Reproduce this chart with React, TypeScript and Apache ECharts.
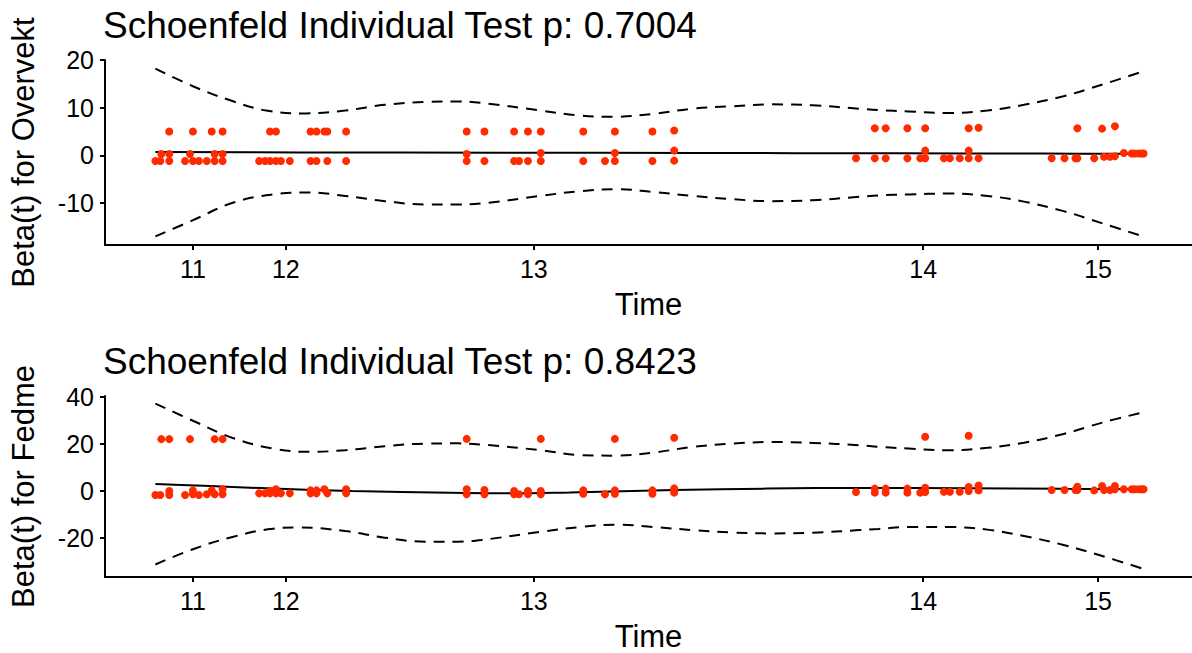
import React, { useEffect, useRef } from "react";
import * as echarts from "echarts";

// Transformed time (km scale, 0..1) for tick positions and their time labels
const tickTimes = [11, 12, 13, 14, 15];
const tickPos = [0.039, 0.133, 0.384, 0.778, 0.955];

const titles = [
  "Schoenfeld Individual Test p: 0.7004",
  "Schoenfeld Individual Test p: 0.8423",
];
const yNames = ["Beta(t) for Overvekt", "Beta(t) for Fedme"];

// Scaled Schoenfeld residuals: [transformed time, beta]
const residOvervekt = [
  [0.001, -1.2], [0.006, -1.2], [0.007, 0.3], [0.015, 5], [0.015, 0.3], [0.015, -1.2],
  [0.031, -1.2], [0.036, 0.3], [0.039, 5], [0.039, -1.2], [0.045, -1.2], [0.053, -1.2],
  [0.058, 5], [0.061, 0.3], [0.061, -1.2], [0.069, 5], [0.069, 0.3], [0.069, -1.2],
  [0.106, -1.2], [0.112, -1.2], [0.117, 5], [0.117, -1.2], [0.123, 5], [0.123, -1.2],
  [0.128, -1.2], [0.137, -1.2], [0.158, 5], [0.158, -1.2], [0.164, 5], [0.164, -1.2],
  [0.172, 5], [0.175, 5], [0.175, -1.2], [0.194, 5], [0.194, -1.2],
  [0.316, 5], [0.316, 0.3], [0.316, -1.2], [0.334, 5], [0.334, -1.2],
  [0.364, 5], [0.364, -1.2], [0.369, -1.2], [0.378, 5], [0.378, -1.2], [0.391, 5],
  [0.391, 0.5], [0.391, -1.2], [0.434, 5], [0.434, -1.2], [0.456, -1.2], [0.466, 5],
  [0.466, 0.5], [0.466, -1.2], [0.504, 5], [0.504, -1.2], [0.526, 5.2], [0.526, 1.0],
  [0.526, -1.1],
  [0.710, -0.6], [0.729, 5.7], [0.729, -0.6], [0.740, 5.7], [0.740, -0.6], [0.762, 5.7],
  [0.762, -0.6], [0.775, -0.6], [0.780, 5.7], [0.780, 1.0], [0.780, -0.6], [0.799, -0.6],
  [0.805, -0.6], [0.815, -0.6], [0.824, 5.7], [0.824, 1.0], [0.824, -0.6], [0.834, 5.8],
  [0.834, -0.6], [0.908, -0.6], [0.921, -0.6], [0.932, -0.6], [0.934, 5.7], [0.934, -0.6],
  [0.951, -0.6], [0.959, 5.6], [0.961, -0.3], [0.967, -0.3], [0.972, 6.1], [0.972, -0.2],
  [0.981, 0.5], [0.989, 0.4], [0.992, 0.4], [0.996, 0.4], [0.999, 0.4], [1.001, 0.4],
];

const residFedme = [
  [0.007, 22], [0.015, 22], [0.036, 22], [0.061, 22], [0.069, 22], [0.316, 22.1],
  [0.391, 22.1], [0.466, 22.1], [0.526, 22.6], [0.780, 23], [0.824, 23.4],
  [0.001, -1.7], [0.006, -1.7], [0.015, 0], [0.015, -1.7], [0.031, -1.7], [0.039, 0.25],
  [0.039, -1.4], [0.045, -1.7], [0.053, -1.4], [0.058, 0.25], [0.061, -1.4], [0.069, 0.7],
  [0.069, -1.4], [0.106, -1.0], [0.112, -1.0], [0.117, 0], [0.117, -1.0], [0.123, 0.7],
  [0.123, -1.0], [0.128, -1.0], [0.137, -1.0], [0.158, 0.25], [0.158, -1.0], [0.164, 0.25],
  [0.164, -1.0], [0.172, 0.7], [0.175, -1.0], [0.194, 0.7], [0.194, -1.0],
  [0.316, 0.7], [0.316, -1.4], [0.334, 0.4], [0.334, -1.4], [0.364, 0], [0.364, -1.4],
  [0.369, -1.4], [0.378, 0], [0.378, -1.4], [0.391, 0], [0.391, -1.4], [0.434, 0.25],
  [0.434, -1.2], [0.456, -1.4], [0.466, 0.25], [0.466, -1.2], [0.504, 0.25], [0.504, -1.2],
  [0.526, 1.1], [0.526, 0], [0.526, -0.7],
  [0.710, -0.4], [0.729, 1.0], [0.729, -0.7], [0.740, 1.0], [0.740, -0.7], [0.762, 1.0],
  [0.762, -0.7], [0.775, -0.7], [0.780, 1.4], [0.780, -0.4], [0.799, -0.3], [0.805, -0.3],
  [0.815, -0.3], [0.824, 1.7], [0.824, 0], [0.834, 2.3], [0.834, 0.25], [0.908, 0.4],
  [0.921, 0.4], [0.932, 0.4], [0.934, 1.8], [0.934, 0.4], [0.951, 0.25], [0.959, 2.1],
  [0.961, 0.4], [0.967, 0.4], [0.972, 2.1], [0.972, 0.7], [0.981, 0.7], [0.989, 0.7],
  [0.992, 0.7], [0.996, 0.7], [0.999, 0.7], [1.001, 0.7],
];

// Smoothed beta(t) fits and their confidence bands
const fitOvervekt = [
  [0.001, 0.7], [0.15, 0.62], [0.35, 0.55], [0.55, 0.5], [0.75, 0.42], [0.9, 0.37], [0.999, 0.35],
];
const upperOvervekt = [
  [0.001, 18.2], [0.039, 14.5], [0.076, 11.6], [0.113, 9.4], [0.153, 8.8], [0.193, 9.4],
  [0.233, 10.6], [0.274, 11.2], [0.307, 11.3], [0.331, 11.0], [0.391, 9.4], [0.428, 8.4],
  [0.465, 8.1], [0.505, 8.7], [0.545, 9.8], [0.585, 10.3], [0.625, 10.7], [0.666, 10.5],
  [0.713, 9.8], [0.733, 9.5], [0.763, 9.2], [0.803, 8.9], [0.843, 9.4], [0.880, 10.6],
  [0.920, 12.4], [0.960, 14.9], [0.999, 17.5],
];
const lowerOvervekt = [
  [0.001, -17.0], [0.039, -13.6], [0.080, -9.9], [0.120, -8.2], [0.157, -7.8], [0.193, -8.5],
  [0.233, -9.6], [0.274, -10.3], [0.307, -10.3], [0.331, -10.1], [0.391, -8.5], [0.431, -7.5],
  [0.468, -7.1], [0.505, -7.7], [0.545, -8.5], [0.585, -9.2], [0.625, -9.6], [0.666, -9.4],
  [0.713, -8.7], [0.733, -8.4], [0.763, -8.2], [0.803, -8.0], [0.843, -8.5], [0.880, -9.7],
  [0.920, -11.7], [0.960, -14.3], [0.999, -16.9],
];

const fitFedme = [
  [0.001, 3.0], [0.05, 2.2], [0.12, 1.0], [0.2, 0.0], [0.3, -0.8], [0.35, -1.0], [0.42, -0.6],
  [0.526, 0.4], [0.62, 1.0], [0.72, 1.3], [0.82, 1.2], [0.92, 0.9], [0.999, 0.7],
];
const upperFedme = [
  [0.001, 37.1], [0.039, 29.8], [0.080, 22.4], [0.120, 18.0], [0.157, 16.6], [0.193, 17.3],
  [0.233, 19.0], [0.274, 20.1], [0.307, 20.2], [0.331, 19.7], [0.391, 17.3], [0.431, 15.2],
  [0.468, 15.0], [0.505, 16.3], [0.545, 18.7], [0.585, 20.1], [0.625, 20.8], [0.666, 20.4],
  [0.713, 19.4], [0.733, 18.7], [0.763, 18.0], [0.803, 17.3], [0.843, 18.3], [0.880, 20.5],
  [0.920, 24.2], [0.960, 29.1], [0.999, 33.2],
];
const lowerFedme = [
  [0.001, -31.2], [0.039, -24.7], [0.080, -19.4], [0.120, -16.0], [0.146, -15.5], [0.193, -17.0],
  [0.233, -19.8], [0.274, -21.5], [0.307, -21.5], [0.331, -20.8], [0.391, -17.3], [0.431, -15.3],
  [0.468, -14.3], [0.505, -15.3], [0.545, -16.6], [0.585, -17.6], [0.625, -18.0], [0.666, -17.7],
  [0.713, -16.6], [0.733, -16.1], [0.763, -15.3], [0.803, -15.3], [0.843, -16.4], [0.880, -19.1],
  [0.920, -22.9], [0.960, -27.7], [0.999, -32.8],
];

const yTicksOvervekt = [-10, 0, 10, 20];
const yTicksFedme = [-20, 0, 20, 40];

const FONT = "'Liberation Sans', Arial, Helvetica, sans-serif";
const RED = "#ff2a00";

export default function App() {
  const ref = useRef<HTMLDivElement>(null);

  useEffect(() => {
    if (!ref.current) return;
    const chart = echarts.init(ref.current, null, { renderer: "svg" });

    const axisLineStyle = { color: "#000", width: 2 };
    const xFormatter = (v: number) => {
      const i = tickPos.findIndex((p) => Math.abs(p - v) < 1e-6);
      return i >= 0 ? String(tickTimes[i]) : "";
    };

    const makeX = (gridIndex: number) => ({
      type: "value",
      gridIndex,
      min: -0.05,
      max: 1.05,
      name: "Time",
      nameLocation: "middle",
      nameGap: 44,
      nameTextStyle: { fontSize: 31, color: "#000", fontFamily: FONT },
      axisLine: { show: true, onZero: false, lineStyle: axisLineStyle },
      axisTick: { show: true, length: 5, lineStyle: axisLineStyle, customValues: tickPos },
      axisLabel: {
        customValues: tickPos,
        formatter: xFormatter,
        fontSize: 25,
        color: "#000",
        fontFamily: FONT,
        margin: 11,
      },
      splitLine: { show: false },
    });

    const makeY = (gridIndex: number, min: number, max: number, ticks: number[], name: string) => ({
      type: "value",
      gridIndex,
      min,
      max,
      name,
      nameLocation: "middle",
      nameGap: 66,
      nameRotate: 90,
      nameTextStyle: { fontSize: 31, color: "#000", fontFamily: FONT },
      axisLine: { show: true, onZero: false, lineStyle: axisLineStyle },
      axisTick: { show: true, length: 5, lineStyle: axisLineStyle, customValues: ticks },
      axisLabel: {
        customValues: ticks,
        fontSize: 25,
        color: "#000",
        fontFamily: FONT,
        margin: 11,
      },
      splitLine: { show: false },
    });

    const lineSeries = (data: number[][], idx: number, dashed: boolean) => ({
      type: "line",
      xAxisIndex: idx,
      yAxisIndex: idx,
      data,
      smooth: 0.4,
      showSymbol: false,
      symbol: "none",
      z: 2,
      lineStyle: { color: "#000", width: 2, type: dashed ? [11, 8] : "solid" },
    });

    const scatterSeries = (data: number[][], idx: number) => ({
      type: "scatter",
      xAxisIndex: idx,
      yAxisIndex: idx,
      data,
      symbolSize: 8,
      z: 3,
      itemStyle: { color: RED, opacity: 1 },
    });

    chart.setOption({
      animation: false,
      backgroundColor: "#fff",
      title: [
        {
          text: titles[0],
          left: 98,
          top: 2,
          textStyle: { fontSize: 37, fontWeight: "normal", color: "#000", fontFamily: FONT },
        },
        {
          text: titles[1],
          left: 98,
          top: 338,
          textStyle: { fontSize: 37, fontWeight: "normal", color: "#000", fontFamily: FONT },
        },
      ],
      grid: [
        { left: 101, right: -4, top: 60, height: 185 },
        { left: 101, right: -4, top: 396, height: 185 },
      ],
      xAxis: [makeX(0), makeX(1)],
      yAxis: [
        makeY(0, -18.8, 20, yTicksOvervekt, yNames[0]),
        makeY(1, -36.5, 40.3, yTicksFedme, yNames[1]),
      ],
      series: [
        lineSeries(fitOvervekt, 0, false),
        lineSeries(upperOvervekt, 0, true),
        lineSeries(lowerOvervekt, 0, true),
        scatterSeries(residOvervekt, 0),
        lineSeries(fitFedme, 1, false),
        lineSeries(upperFedme, 1, true),
        lineSeries(lowerFedme, 1, true),
        scatterSeries(residFedme, 1),
      ],
    });

    return () => chart.dispose();
  }, []);

  return (
    <div
      ref={ref}
      style={{ position: "absolute", left: 0, top: 0, width: 1192, height: 653, background: "#fff" }}
    />
  );
}
